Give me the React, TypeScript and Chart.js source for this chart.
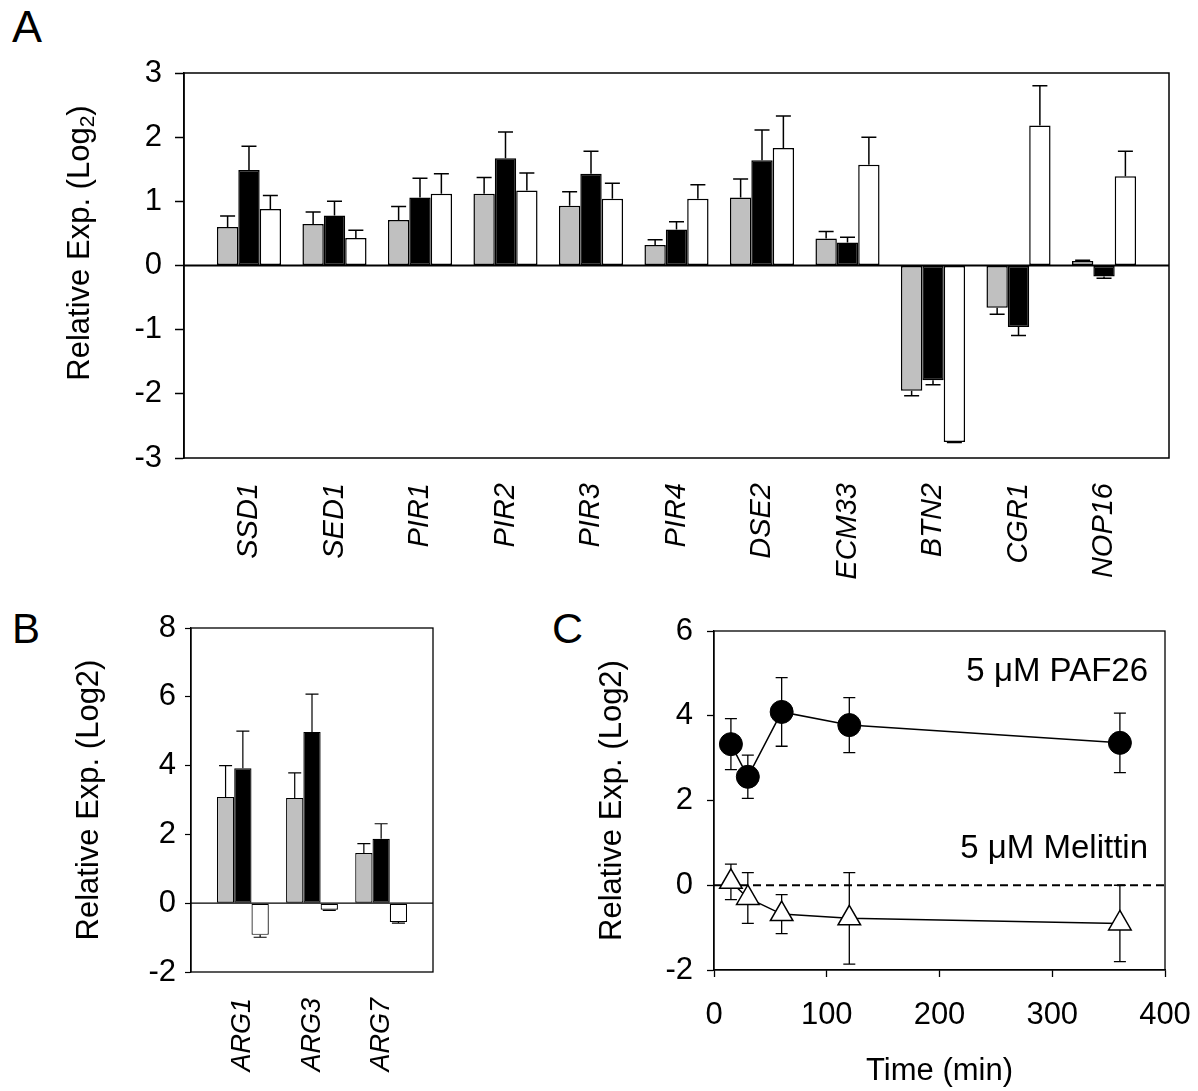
import React, { useEffect, useRef } from 'react';
import { Chart, registerables } from 'chart.js';

Chart.register(...registerables);

const FONT = '"Liberation Sans", Arial, Helvetica, sans-serif';
Chart.defaults.font.family = FONT;
Chart.defaults.color = '#000';

// ---------------- Panel A data ----------------
const genesA = ['SSD1', 'SED1', 'PIR1', 'PIR2', 'PIR3', 'PIR4', 'DSE2', 'ECM33', 'BTN2', 'CGR1', 'NOP16'];
const grayA = [0.60, 0.645, 0.71, 1.12, 0.93, 0.32, 1.06, 0.42, -1.95, -0.66, 0.07];
const grayErrA = [0.17, 0.19, 0.21, 0.25, 0.22, 0.08, 0.29, 0.11, 0.08, 0.10, 0.01];
const blackA = [1.49, 0.78, 1.06, 1.67, 1.43, 0.56, 1.64, 0.36, -1.79, -0.96, -0.17];
const blackErrA = [0.37, 0.22, 0.30, 0.41, 0.35, 0.12, 0.47, 0.08, 0.07, 0.13, 0.03];
const whiteA = [0.88, 0.43, 1.12, 1.17, 1.04, 1.04, 1.83, 1.57, -2.75, 2.18, 1.39];
const whiteErrA = [0.21, 0.12, 0.31, 0.27, 0.24, 0.22, 0.50, 0.43, 0.01, 0.62, 0.39];

// ---------------- Panel B data ----------------
const genesB = ['ARG1', 'ARG3', 'ARG7'];
const grayB = [3.09, 3.06, 1.46];
const grayErrB = [0.91, 0.73, 0.27];
const blackB = [3.92, 4.98, 1.87];
const blackErrB = [1.08, 1.10, 0.44];
const whiteB = [-0.92, -0.19, -0.55];
const whiteErrB = [0.07, 0.02, 0.03];

// ---------------- Panel C data ----------------
const timeC = [15, 30, 60, 120, 360];
const paf26 = [3.33, 2.56, 4.09, 3.78, 3.36];
const paf26Err = [0.60, 0.51, 0.81, 0.65, 0.70];
const melittin = [0.08, -0.30, -0.68, -0.78, -0.90];
const melittinErr = [0.42, 0.60, 0.46, 1.08, 0.90];

type Part = { t: string; size: number; dy?: number };
type Txt = { parts: Part[]; x: number; y: number; rotate?: boolean; align?: 'left' | 'center' | 'right' };

function drawRich(ctx: CanvasRenderingContext2D, item: Txt) {
  ctx.save();
  ctx.translate(item.x, item.y);
  if (item.rotate) ctx.rotate(-Math.PI / 2);
  ctx.textBaseline = 'middle';
  ctx.textAlign = 'left';
  ctx.fillStyle = '#000';
  let total = 0;
  const widths = item.parts.map((p) => {
    ctx.font = `${p.size}px ${FONT}`;
    const w = ctx.measureText(p.t).width;
    total += w;
    return w;
  });
  let x = item.align === 'right' ? -total : item.align === 'left' ? 0 : -total / 2;
  item.parts.forEach((p, i) => {
    ctx.font = `${p.size}px ${FONT}`;
    ctx.fillText(p.t, x, p.dy || 0);
    x += widths[i];
  });
  ctx.restore();
}

type Deco = {
  frame?: number;
  zero?: { width: number; dash?: number[]; below?: boolean };
  errors?: number[][];
  errMode?: 'away' | 'both';
  errBelow?: boolean;
  errWidth?: number;
  cap?: number;
  texts?: Txt[];
};

function makeDeco(o: Deco) {
  const drawZero = (chart: any) => {
    if (!o.zero) return;
    const ctx = chart.ctx;
    const a = chart.chartArea;
    const y = chart.scales.y.getPixelForValue(0);
    ctx.save();
    ctx.strokeStyle = '#000';
    ctx.lineWidth = o.zero.width;
    ctx.setLineDash(o.zero.dash || []);
    ctx.beginPath();
    ctx.moveTo(a.left, y);
    ctx.lineTo(a.right, y);
    ctx.stroke();
    ctx.restore();
  };
  const drawErrors = (chart: any) => {
    if (!o.errors) return;
    const ctx = chart.ctx;
    const ys = chart.scales.y;
    ctx.save();
    ctx.strokeStyle = '#000';
    ctx.lineWidth = o.errWidth || 1.2;
    o.errors.forEach((errs, di) => {
      const meta = chart.getDatasetMeta(di);
      const ds = chart.data.datasets[di];
      meta.data.forEach((el: any, j: number) => {
        const v = ds.data[j].y;
        const e = errs[j];
        const x = el.x;
        const ends = o.errMode === 'both' ? [v + e, v - e] : [v >= 0 ? v + e : v - e];
        const y0 = ys.getPixelForValue(v);
        ends.forEach((end) => {
          const y1 = ys.getPixelForValue(end);
          const c = (o.cap || 12) / 2;
          ctx.beginPath();
          ctx.moveTo(x, y0);
          ctx.lineTo(x, y1);
          ctx.moveTo(x - c, y1);
          ctx.lineTo(x + c, y1);
          ctx.stroke();
        });
      });
    });
    ctx.restore();
  };
  return {
    id: 'deco',
    beforeDatasetsDraw(chart: any) {
      if (o.zero && o.zero.below) drawZero(chart);
      if (o.errBelow) drawErrors(chart);
    },
    afterDatasetsDraw(chart: any) {
      if (o.zero && !o.zero.below) drawZero(chart);
      if (!o.errBelow) drawErrors(chart);
      if (o.frame) {
        const a = chart.chartArea;
        const ctx = chart.ctx;
        ctx.save();
        ctx.strokeStyle = '#000';
        ctx.lineWidth = o.frame;
        ctx.strokeRect(a.left, a.top, a.right - a.left, a.bottom - a.top);
        ctx.restore();
      }
      (o.texts || []).forEach((t) => drawRich(chart.ctx, t));
    },
  };
}

function barSet(vals: number[], fill: string, bw: number) {
  return {
    data: vals.map((v, i) => ({ x: i, y: v })),
    backgroundColor: fill,
    borderColor: '#000',
    borderWidth: bw,
    borderSkipped: false,
    categoryPercentage: 0.75,
    barPercentage: 1,
  };
}

function configA() {
  return {
    type: 'bar',
    data: {
      datasets: [barSet(grayA, '#c0c0c0', 1.5), barSet(blackA, '#000000', 1.5), barSet(whiteA, '#ffffff', 1.5)],
    },
    options: {
      responsive: false,
      animation: false,
      events: [],
      layout: { padding: { top: 33, right: 21, left: 0, bottom: 0 } },
      plugins: { legend: { display: false }, tooltip: { enabled: false } },
      scales: {
        x: {
          type: 'linear',
          min: -0.76,
          max: 10.76,
          offset: false,
          grid: { display: false, drawTicks: false, offset: false },
          border: { display: false },
          ticks: {
            stepSize: 1,
            includeBounds: false,
            autoSkip: false,
            minRotation: 90,
            maxRotation: 90,
            padding: 25,
            color: '#000',
            font: { size: 29, style: 'italic' },
            callback: (v: number) => {
              const k = Math.round(v);
              return Math.abs(v - k) < 1e-6 && genesA[k] ? genesA[k] : '';
            },
          },
          afterFit: (s: any) => {
            s.height = 142;
          },
        },
        y: {
          min: -3,
          max: 3,
          ticks: { stepSize: 1, padding: 13, color: '#000', font: { size: 31 } },
          grid: { display: true, drawOnChartArea: false, tickLength: 9, tickColor: '#000', tickWidth: 1.5 },
          border: { display: true, color: '#000', width: 1.5 },
          afterFit: (s: any) => {
            s.width = 134;
          },
        },
      },
    },
    plugins: [
      makeDeco({
        frame: 1.5,
        zero: { width: 1.8 },
        errors: [grayErrA, blackErrA, whiteErrA],
        errMode: 'away',
        errWidth: 1.5,
        cap: 15,
        texts: [
          {
            parts: [
              { t: 'Relative Exp. (Log', size: 31 },
              { t: '2', size: 21, dy: 8 },
              { t: ')', size: 31 },
            ],
            x: 30,
            y: 203,
            rotate: true,
            align: 'center',
          },
        ],
      }),
    ],
  };
}

function configB() {
  return {
    type: 'bar',
    data: {
      datasets: [barSet(grayB, '#c0c0c0', 1.2), barSet(blackB, '#000000', 1.2), barSet(whiteB, '#ffffff', 1.2)],
    },
    options: {
      responsive: false,
      animation: false,
      events: [],
      layout: { padding: { top: 28, right: 17, left: 0, bottom: 0 } },
      plugins: { legend: { display: false }, tooltip: { enabled: false } },
      scales: {
        x: {
          type: 'linear',
          min: -0.75,
          max: 2.75,
          offset: false,
          grid: { display: false, drawTicks: false, offset: false },
          border: { display: false },
          ticks: {
            stepSize: 1,
            includeBounds: false,
            autoSkip: false,
            minRotation: 90,
            maxRotation: 90,
            padding: 26,
            color: '#000',
            font: { size: 27, style: 'italic' },
            callback: (v: number) => {
              const k = Math.round(v);
              return Math.abs(v - k) < 1e-6 && genesB[k] ? genesB[k] : '';
            },
          },
          afterFit: (s: any) => {
            s.height = 119;
          },
        },
        y: {
          min: -2,
          max: 8,
          ticks: { stepSize: 2, padding: 9, color: '#000', font: { size: 31 } },
          grid: { display: true, drawOnChartArea: false, tickLength: 6, tickColor: '#000', tickWidth: 1.2 },
          border: { display: true, color: '#000', width: 1.3 },
          title: {
            display: true,
            text: 'Relative Exp. (Log2)',
            color: '#000',
            font: { size: 31 },
            padding: { top: 11, bottom: 0 },
          },
          afterFit: (s: any) => {
            s.width = 131;
          },
        },
      },
    },
    plugins: [
      makeDeco({
        frame: 1.3,
        zero: { width: 1.2 },
        errors: [grayErrB, blackErrB, whiteErrB],
        errMode: 'away',
        errWidth: 1.2,
        cap: 13,
      }),
    ],
  };
}

function configC() {
  return {
    type: 'line',
    data: {
      datasets: [
        {
          data: timeC.map((t, i) => ({ x: t, y: paf26[i] })),
          borderColor: '#000',
          borderWidth: 1.5,
          pointStyle: 'circle',
          pointRadius: 11.5,
          pointBackgroundColor: '#000',
          pointBorderColor: '#000',
          pointBorderWidth: 1,
          fill: false,
          tension: 0,
        },
        {
          data: timeC.map((t, i) => ({ x: t, y: melittin[i] })),
          borderColor: '#000',
          borderWidth: 1.5,
          pointStyle: 'triangle',
          pointRadius: 13,
          pointBackgroundColor: '#fff',
          pointBorderColor: '#000',
          pointBorderWidth: 1.5,
          fill: false,
          tension: 0,
        },
      ],
    },
    options: {
      responsive: false,
      animation: false,
      events: [],
      layout: { padding: { top: 41, right: 60, left: 0, bottom: 0 } },
      plugins: { legend: { display: false }, tooltip: { enabled: false } },
      scales: {
        x: {
          type: 'linear',
          min: 0,
          max: 400,
          ticks: { stepSize: 100, padding: 20, color: '#000', font: { size: 31 }, maxRotation: 0 },
          grid: { display: true, drawOnChartArea: false, tickLength: 7, tickColor: '#000', tickWidth: 1.3 },
          border: { display: true, color: '#000', width: 1.3 },
          title: { display: true, text: 'Time (min)', color: '#000', font: { size: 31 }, padding: { top: 0, bottom: 1 } },
          afterFit: (s: any) => {
            s.height = 121;
          },
        },
        y: {
          min: -2,
          max: 6,
          ticks: { stepSize: 2, padding: 14, color: '#000', font: { size: 31 } },
          grid: { display: true, drawOnChartArea: false, tickLength: 7, tickColor: '#000', tickWidth: 1.3 },
          border: { display: true, color: '#000', width: 1.3 },
          title: {
            display: true,
            text: 'Relative Exp. (Log2)',
            color: '#000',
            font: { size: 31 },
            padding: { top: 4, bottom: 0 },
          },
          afterFit: (s: any) => {
            s.width = 124;
          },
        },
      },
    },
    plugins: [
      makeDeco({
        frame: 1.3,
        zero: { width: 2, dash: [8, 5], below: true },
        errors: [paf26Err, melittinErr],
        errMode: 'both',
        errBelow: true,
        errWidth: 1.3,
        cap: 12,
        texts: [
          { parts: [{ t: '5 μM PAF26', size: 33 }], x: 558, y: 82, align: 'right' },
          { parts: [{ t: '5 μM Melittin', size: 33 }], x: 558, y: 259, align: 'right' },
        ],
      }),
    ],
  };
}

function ChartCanvas(props: { left: number; top: number; width: number; height: number; make: () => any }) {
  const ref = useRef<HTMLCanvasElement>(null);
  useEffect(() => {
    const chart = new Chart(ref.current as HTMLCanvasElement, props.make());
    return () => chart.destroy();
  }, []);
  return (
    <canvas
      ref={ref}
      width={props.width}
      height={props.height}
      style={{ position: 'absolute', left: props.left, top: props.top, width: props.width, height: props.height }}
    />
  );
}

export default function App() {
  const letter = (txt: string, left: number, top: number, size: number) => (
    <div style={{ position: 'absolute', left, top, fontSize: size, lineHeight: 1, fontFamily: FONT, color: '#000' }}>{txt}</div>
  );
  return (
    <div style={{ position: 'absolute', left: 0, top: 0, width: 1198, height: 1091, background: '#fff', overflow: 'hidden' }}>
      {letter('A', 12, 4, 45)}
      {letter('B', 12, 608, 42)}
      {letter('C', 552, 607, 43)}
      <ChartCanvas left={50} top={40} width={1140} height={560} make={configA} />
      <ChartCanvas left={60} top={600} width={390} height={491} make={configB} />
      <ChartCanvas left={590} top={590} width={635} height={501} make={configC} />
    </div>
  );
}
